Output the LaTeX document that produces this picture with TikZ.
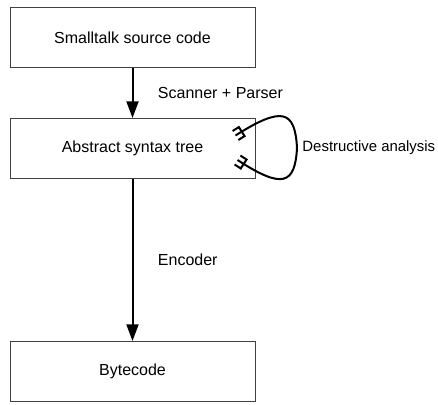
\documentclass[tikz,border=0pt]{standalone}
\usepackage{fontspec}
\setmainfont{Liberation Sans}
\usetikzlibrary{arrows.meta}

% Punta a forchetta per il ciclo
\pgfdeclarearrow{
  name = Fork,
  parameters = {\the\pgfarrowlength,\the\pgfarrowwidth},
  setup code = {
    \pgfarrowssettipend{0pt}
    \pgfarrowssetlineend{0pt}
    \pgfarrowssetbackend{-\pgfarrowlength}
    \pgfarrowssetvisualbackend{-\pgfarrowlength}
    \pgfarrowshullpoint{0pt}{.5\pgfarrowwidth}
    \pgfarrowshullpoint{0pt}{-.5\pgfarrowwidth}
    \pgfarrowshullpoint{-\pgfarrowlength}{.5\pgfarrowwidth}
    \pgfarrowshullpoint{-\pgfarrowlength}{-.5\pgfarrowwidth}
    \pgfarrowssavethe\pgfarrowlength
    \pgfarrowssavethe\pgfarrowwidth
  },
  drawing code = {
    \pgfsetdash{}{0pt}
    \pgfpathmoveto{\pgfqpoint{0pt}{.5\pgfarrowwidth}}
    \pgfpathlineto{\pgfqpoint{-\pgfarrowlength}{.5\pgfarrowwidth}}
    \pgfpathlineto{\pgfqpoint{-\pgfarrowlength}{-.5\pgfarrowwidth}}
    \pgfpathlineto{\pgfqpoint{0pt}{-.5\pgfarrowwidth}}
    \pgfusepathqstroke
  },
  defaults = {length=5.5pt,width=8pt}
}

\begin{document}
\begin{tikzpicture}[x=0.75pt,y=-0.75pt,>={Triangle[length=12.5pt,width=9pt]},
  font=\fontsize{12}{14}\selectfont]

% Stili per blocchi e frecce
\tikzset{stage/.style={draw=black!75,line width=0.75pt,minimum width=183.75pt,minimum height=45pt},
  flow/.style={->,line width=1.5pt}}

\useasboundingbox (0,0) rectangle (438,404);

% --- Blocchi ---
\node[stage] (src) at (132.5,37.5) {Smalltalk source code};
\node[stage] (ast) at (132.5,148.5) {Abstract syntax tree};
\node[stage] (bc) at (132.5,371.5) {Bytecode};

% Frecce tra i blocchi
\draw[flow] (src) -- node[midway,right=15pt] {Scanner + Parser} (ast);
\draw[flow] (ast) -- node[midway,right=15pt] {Encoder} (bc);

% Ciclo sull'albero
\coordinate (loopin) at ([shift={(-20,-13)}]ast.east);
\coordinate (loopout) at ([shift={(-18,11.5)}]ast.east);
\draw[Fork-Fork,line width=1.5pt] (loopin) .. controls (282,106) and (295,110) .. (297,148)
  node[right,font=\fontsize{11.2}{13}\selectfont] {Destructive analysis}
  .. controls (295,185) and (282,189) .. (loopout);

\end{tikzpicture}
\end{document}
